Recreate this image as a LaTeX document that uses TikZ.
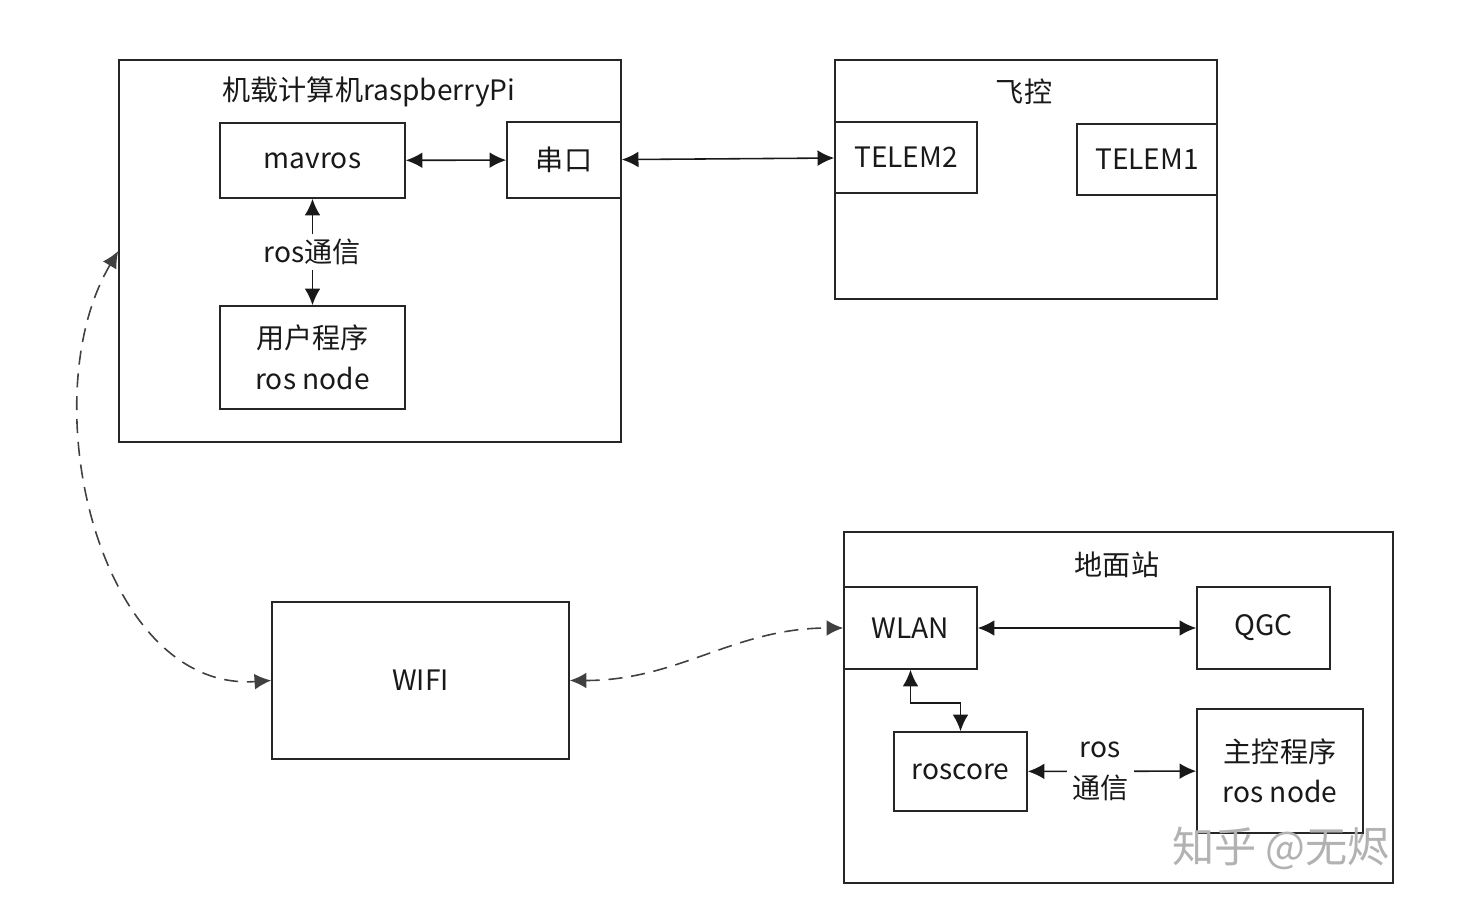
\documentclass[tikz,border=0pt]{standalone}
\usepackage{fontspec}
\setmainfont{Noto Sans CJK SC}
\usetikzlibrary{arrows.meta}

\begin{document}
\begin{tikzpicture}[x=0.02cm,y=-0.02cm,line width=0.9pt,
  >={Latex[length=9.5pt,width=9pt]},
  boite/.style 2 args={draw=black!85,minimum width=#1cm,minimum height=#2cm,inner sep=0pt},
  titre/.style={inner sep=0pt},
  liaison/.style={<->,draw=black!90},
  sansfil/.style={<->,draw=black!75,dash pattern=on 8pt off 5pt},
  every node/.style={font=\fontsize{16}{23}\selectfont, text=black!90}]

  \useasboundingbox (0,0) rectangle (1470,908);

  % le calculateur de bord
  \node[boite={10.04}{7.64}] (pi) at (370,251) {};
  \node[titre] (pititre) at (369,92) {机载计算机raspberryPi};
  \node[boite={3.7}{1.5}] (mavros) at (312.5,160.5) {mavros};
  \node[boite={2.28}{1.52}] (serie) at (564,160) {串口};
  \node[boite={3.7}{2.06},align=center] (user) at (312.5,357.5) {用户程序\\ros node};

  % le contrôleur de vol
  \node[boite={7.64}{4.78}] (fc) at (1026,179.5) {};
  \node[titre] (fctitre) at (1024,92) {飞控};
  \node[boite={2.84}{1.42}] (telemb) at (906,157.5) {TELEM2};
  \node[boite={2.8}{1.42}] (telema) at (1147,159.5) {TELEM1};

  % le wifi
  \node[boite={5.94}{3.14}] (wifi) at (420.5,680.5) {WIFI};

  % la station sol
  \node[boite={10.98}{7.02}] (gcs) at (1118.5,707.5) {};
  \node[titre] (gcstitre) at (1117,565) {地面站};
  \node[boite={2.66}{1.64}] (wlan) at (910.5,628) {WLAN};
  \node[boite={2.66}{1.64}] (qgc) at (1263.5,628) {QGC};
  \node[boite={2.66}{1.58}] (roscore) at (960.5,771.5) {roscore};
  \node[boite={3.32}{2.48},align=center] (master) at (1280,771) {主控程序\\ros node};

  % les liaisons
  \draw[liaison] (mavros) -- (serie);
  \draw[liaison] (serie) -- (telemb);
  \draw[liaison] (mavros) -- node[fill=white,inner sep=3pt] (rostalk) {ros通信} (user);
  \draw[liaison] (wlan) -- (qgc);
  \draw[liaison] (wlan.south) -- ++(0,33) -| (roscore.north);
  \draw[liaison] (roscore) -- node[pos=0.43,fill=white,inner sep=3pt,align=center] (rostalkb) {ros\\通信} (master);

  % les liaisons sans fil
  \draw[sansfil] (pi.west) .. controls (30,400) and (100,692) .. (wifi.west);
  \draw[sansfil] (wifi.east) to[out=0,in=180] (wlan.west);

  % filigrane
  \node[font=\fontsize{24}{28}\selectfont,text=black!30] (marque) at (1281,848) {知乎 @无烬};
\end{tikzpicture}
\end{document}
